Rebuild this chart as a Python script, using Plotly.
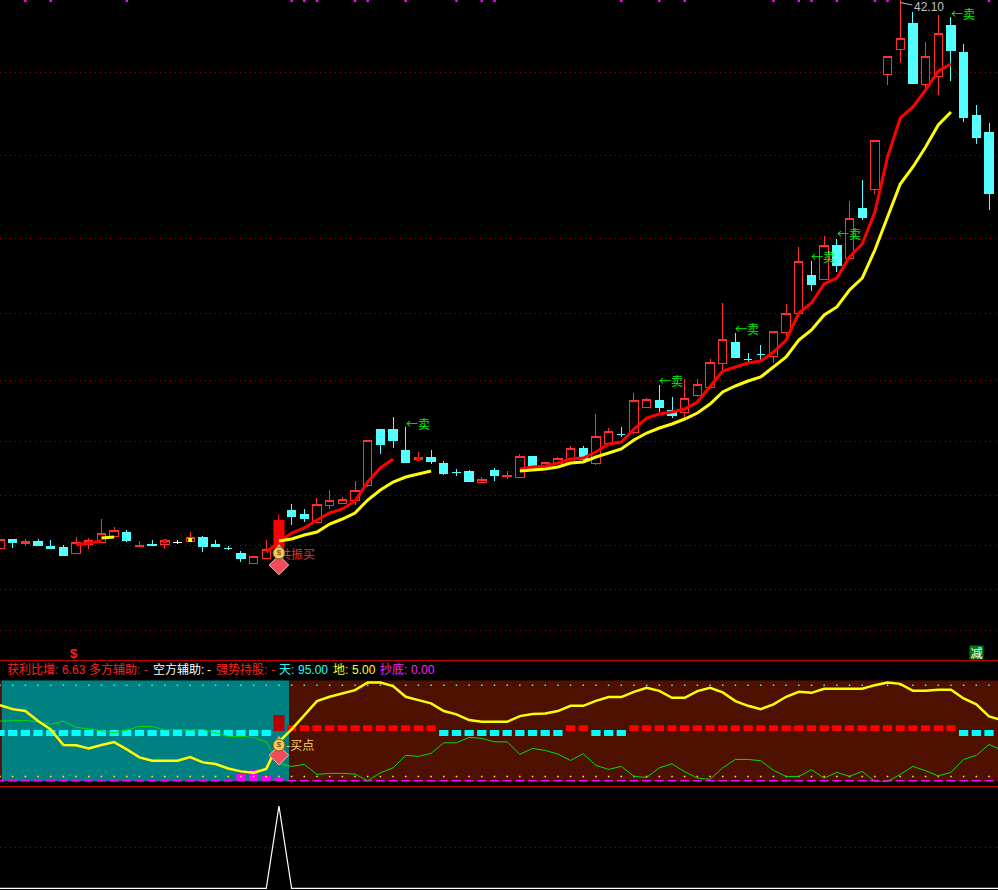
import plotly.graph_objects as go

# ---------- main panel: candles (scale 0-660 with 42.10 near the top) ----------
body_top = [121,121,119,119,114,113,118,120,127,130,128,115,116,120,118,123,123,116,112,107,104,111,140,150,146,156,160,161,170,220,
            231,231,210,203,203,197,188,189,181,190,185,204,204,198,202,212,212,224,229,226,260,261,260,250,262,276,298,321,318,301,
            306,329,347,399,385,415,415,442,452,520,604,622,637,604,627,635,608,545,528]
body_bottom = [112,118,117,115,112,105,107,116,118,124,120,114,115,116,118,119,114,114,112,102,97,102,113,144,142,138,155,157,160,175,
               216,220,198,201,199,187,188,179,178,185,184,183,195,192,197,197,201,197,217,226,228,253,253,245,248,265,273,297,303,301,
               306,304,328,347,376,381,395,402,443,471,586,611,577,576,584,610,543,523,467]
wick_high = [121,121,121,121,120,115,123,122,141,133,130,119,120,121,120,128,124,120,114,109,104,120,146,156,151,162,170,163,179,220,
             231,243,233,208,210,199,191,190,183,192,189,206,204,198,203,214,214,246,232,233,267,262,275,263,281,281,301,357,327,307,
             315,329,356,413,399,424,421,459,480,520,604,660,648,618,645,643,616,555,537]
wick_low = [112,112,114,115,111,104,107,111,118,124,118,114,115,111,116,119,108,114,110,98,97,102,113,135,138,138,151,157,155,173,
            206,212,197,199,196,185,184,178,177,179,181,183,194,192,197,197,197,195,217,223,226,252,248,242,242,263,273,290,302,297,
            299,297,322,347,369,381,388,402,440,466,575,597,577,571,565,579,538,516,450]
falling_days = [1,3,4,5,10,12,16,17,18,19,23,24,30,31,32,34,35,36,37,39,42,46,49,52,53,58,59,60,64,66,68,72,75,76,77,78]
neutral_days = [14]
signal_day = 22

fast_line = [None]*6 + [115,117,119] + [None]*12 + [108,118,127,132,140,147,151,159,178,192,201] + [None]*9 + \
            [191,193,194,197,201,202,208,216,218,231,242,246,248,251,258,273,289,293,297,299,308,320,347,357,376,382,403,416,448,503,542,553,570,589,596]
slow_line = [None]*8 + [122,123] + [None]*12 + [119,121,125,128,136,141,147,160,170,178,183,186,189] + [None]*6 + \
            [189,190,191,193,197,198,203,207,211,220,227,232,236,241,247,256,268,274,279,283,293,303,320,330,345,353,370,382,410,444,476,493,513,535,548]
red_blip_days, red_blip_levels = [13, 33], [119, 201]
yellow_blip_days, yellow_blip_levels = [15], [120]

grid_levels = [588,505,422,347,280,219,165,115,71,30]
sell_days = [32,52,58,64,66,75]
sell_levels = [237,280,332,404,427,647]
top_mark_days = [2,4,10,23,24,25,28,29,32,36,38,39,49,52,54,61,63,64,66,69,70,78]
peak_leader_days, peak_leader_levels = [71, 71.5, 71.95], [657.5, 656, 655]

# ---------- indicator panel (0-100) ----------
yellow_index = [75.5,71.5,69.6,59.7,51.5,36,35.7,32.7,36,38.9,31.7,23.8,20.5,20.5,20.5,24.1,18.9,17.2,12.9,10,8.6,12.5,39.2,51.5,65.6,79.4,83.7,87,90.3,97.9,
                97.9,94.3,83.7,80.4,77.2,69.6,66.3,60.7,59,59,59,64.6,66.6,67.3,69.6,74.8,74.8,79.7,83.4,83.4,88.6,92.6,89.6,82.7,82.7,89.3,92.6,88,79.4,74.8,
                71.5,76.2,83.7,88.6,87.6,91.6,91.6,91.6,91.6,95.2,97.9,96.5,89.6,89.6,90.6,90.6,82.1,76.2,64.3,60.7]
green_index = [59.7,60.4,60.4,59,56.4,59.7,53.5,52.1,50.1,48.1,50.8,54.4,54.4,50.8,51.5,50.8,51.5,48.1,44.6,44.6,43.6,39.2,17.9,14.9,16.9,7,8,8,7.3,0.7,
               8.6,13.5,25.8,24.8,27.8,38.2,38.2,43.6,42.6,39.2,39.2,26.8,32.7,30.7,27.1,20.8,27.4,15.9,12,14.9,5,4,13.5,17.5,9.6,3.4,2.1,13.5,21.8,21.8,
               20.5,11,5,5,11.6,3.4,9,5,10,0,0,7,14.9,10.6,5.6,9,21.8,25.8,36.6,31]
bull_days = list(range(23,35)) + [45,46] + list(range(50,76))
bear_days = list(range(0,22)) + list(range(35,45)) + [47,48,49,76,77,78]
bull_band = (49.8, 55.7)
bear_band = (44.9, 50.8)
block_band = (49.8, 65.6)
bottom_days = [19,20,21,22,23,24]
bottom_values = [7.3,11,5.4,3.4,1.5,1.5]
base_bottom = 1.6
sky_level, ground_level = 95, 5
zone_switch = 22.82

pulse_days = [0,21,22,23,79]
pulse_values = [0,0,1,0,0]
pulse_grid = [0.5]

header_labels = [("获利比增:",5.5,"#ff2020"),("多方辅助:",88,"#ff2020"),("-",143,"#ff2020"),("空方辅助:",152,"#ffffff"),("-",206,"#ffffff"),
                 ("强势持股:",215,"#ff2020"),("-",270,"#ff2020"),("天:",278,"#20ffff"),("地:",332,"#ffff20"),("抄底:",379,"#ff20ff")]
header_values = [("6.63",61,"#ff2020"),("95.00",297,"#20ffff"),("5.00",351,"#ffff20"),("0.00",410,"#ff20ff")]

# ---------- geometry ----------
W, H = 998, 890
days = list(range(79))
ind_days = list(range(80))
DOT = "#b00000"
FONT = "Liberation Sans, Noto Sans CJK SC, sans-serif"
CJK = "Noto Sans CJK SC, sans-serif"

fig = go.Figure()

def ohlc(ds):
    o, c = [], []
    for d in ds:
        if d in falling_days:
            o.append(body_top[d]); c.append(body_bottom[d])
        else:
            o.append(body_bottom[d]); c.append(body_top[d])
    return dict(x=ds, open=o, close=c, high=[wick_high[d] for d in ds], low=[wick_low[d] for d in ds])

def candles(ds, line, fill, w=1.0):
    side = dict(line=dict(color=line, width=w), fillcolor=fill)
    fig.add_trace(go.Candlestick(**ohlc(ds), increasing=side, decreasing=side, whiskerwidth=0,
                                 xaxis="x", yaxis="y", showlegend=False, hoverinfo="skip"))

rising = [d for d in days if d not in falling_days and d not in neutral_days and d != signal_day]
candles(rising, "#ff3030", "#000000")
candles(falling_days, "#54ffff", "#54ffff")
candles(neutral_days, "#ffffff", "#ffffff")
candles([signal_day], "#ff0000", "#ff0000", 1)
fig.add_trace(go.Bar(x=[signal_day], y=[body_top[signal_day]-body_bottom[signal_day]], base=[body_bottom[signal_day]], width=0.87,
                     marker=dict(color="#ff0000", line=dict(width=0)), showlegend=False, xaxis="x", yaxis="y", hoverinfo="skip"))

fig.add_trace(go.Scatter(x=days, y=fast_line, mode="lines", line=dict(color="#ff0000", width=3), connectgaps=False, showlegend=False, yaxis="y"))
fig.add_trace(go.Scatter(x=days, y=slow_line, mode="lines", line=dict(color="#ffff00", width=3), connectgaps=False, showlegend=False, yaxis="y"))
fig.add_trace(go.Scatter(x=red_blip_days, y=red_blip_levels, mode="markers", marker=dict(symbol="square", size=4, color="#ff0000"), showlegend=False, yaxis="y"))
fig.add_trace(go.Scatter(x=yellow_blip_days, y=yellow_blip_levels, mode="markers", marker=dict(symbol="square", size=4, color="#ffff00"), showlegend=False, yaxis="y"))
fig.add_trace(go.Scatter(x=top_mark_days, y=[659.2]*len(top_mark_days), mode="markers", marker=dict(symbol="square", size=2.5, color="#ff00ff"), cliponaxis=False, showlegend=False, yaxis="y"))
fig.add_trace(go.Scatter(x=peak_leader_days, y=peak_leader_levels, mode="lines", line=dict(color="#c0c0c0", width=1), showlegend=False, yaxis="y"))

# signal text and icons, main panel
fig.add_trace(go.Scatter(x=[signal_day], y=[104], mode="text", text=["共振买"], textposition="middle right",
                         textfont=dict(family=CJK, size=12, color="#e83030"), showlegend=False, yaxis="y"))

def icon(axis, bag, gem):
    fig.add_trace(go.Scatter(x=[signal_day], y=[gem], mode="markers", marker=dict(symbol="diamond", size=15, color="#f04c5c", line=dict(color="#ffb0b0", width=1)), showlegend=False, yaxis=axis))
    fig.add_trace(go.Scatter(x=[signal_day], y=[bag+6], mode="markers", marker=dict(symbol="triangle-up", size=6, color="#f0c860"), showlegend=False, yaxis=axis))
    fig.add_trace(go.Scatter(x=[signal_day], y=[bag], mode="markers+text", text=["$"], textposition="middle center",
                             textfont=dict(family=FONT, size=8, color="#7a3a00"),
                             marker=dict(symbol="circle", size=12, color="#f0c860", line=dict(color="#8a5010", width=1)), showlegend=False, yaxis=axis))

icon("y", 107, 95)

# indicator panel
def band(ds, lo_hi, color, width=0.73):
    fig.add_trace(go.Bar(x=ds, y=[lo_hi[1]-lo_hi[0]]*len(ds), base=[lo_hi[0]]*len(ds), width=width, marker=dict(color=color, line=dict(width=0)),
                         showlegend=False, xaxis="x", yaxis="y2", hoverinfo="skip"))

fig.add_trace(go.Scatter(x=days, y=[sky_level]*79, mode="markers", marker=dict(symbol="square", size=1.5, color="#20ffff"), showlegend=False, yaxis="y2"))
fig.add_trace(go.Scatter(x=days, y=[ground_level]*79, mode="markers", marker=dict(symbol="square", size=1.5, color="#ffff20"), showlegend=False, yaxis="y2"))
base_x = [d for d in days if d not in bottom_days]
fig.add_trace(go.Bar(x=base_x, y=[base_bottom]*len(base_x), width=0.71, marker=dict(color="#ff00ff", line=dict(width=0)), showlegend=False, yaxis="y2"))
fig.add_trace(go.Bar(x=bottom_days, y=bottom_values, width=0.71, marker=dict(color="#ff00ff", line=dict(width=0)), showlegend=False, yaxis="y2"))
band(bear_days, bear_band, "#00ffff")
band(bull_days, bull_band, "#ff0000")
band([signal_day], block_band, "#b80000", 0.87)

fig.add_trace(go.Scatter(x=ind_days, y=green_index, mode="lines", line=dict(color="#00e000", width=1), showlegend=False, yaxis="y2"))
fig.add_trace(go.Scatter(x=ind_days, y=yellow_index, mode="lines", line=dict(color="#ffff00", width=2.5), showlegend=False, yaxis="y2"))
icon("y2", 36, 26)

# pulse panel
fig.add_trace(go.Scatter(x=pulse_days, y=pulse_values, mode="lines", line=dict(color="#ffffff", width=1.2), showlegend=False, yaxis="y3"))

# ---------- layout ----------
def yfrac(px):
    return 1 - px/H

hidden = dict(showticklabels=False, ticks="", zeroline=False, showline=False, showgrid=False)
annotations = []
for d, lv in zip(sell_days, sell_levels):
    annotations.append(dict(x=d, y=lv, xref="x", yref="y", text="←卖", showarrow=False, xanchor="left", yanchor="middle",
                            font=dict(family=CJK, size=12, color="#00f000"), borderpad=0, xshift=-1))
annotations.append(dict(x=71, y=653, xref="x", yref="y", text="42.10", showarrow=False, xanchor="left", yanchor="middle",
                        font=dict(family=FONT, size=12, color="#c0c0c0"), borderpad=0, xshift=13))
annotations.append(dict(x=signal_day, y=36.5, xref="x", yref="y2", text="-买点", showarrow=False, xanchor="left", yanchor="middle",
                        font=dict(family=CJK, size=12, color="#ffd070"), borderpad=0, xshift=6))
for txt, px, col in header_labels + header_values:
    annotations.append(dict(x=px/W, y=yfrac(669.5), xref="paper", yref="paper", text=txt, showarrow=False, xanchor="left", yanchor="middle",
                            font=dict(family=FONT, size=12, color=col), borderpad=0))
annotations.append(dict(x=5.85, y=6.5, xref="x", yref="y", text="<b>$</b>", showarrow=False, xanchor="center", yanchor="middle",
                        font=dict(family=FONT, size=13, color="#ff2020"), borderpad=0))
annotations.append(dict(x=77, y=7.5, xref="x", yref="y", text="减", showarrow=False, xanchor="center", yanchor="middle", width=13, height=13,
                        font=dict(family=CJK, size=12, color="#ffffff"), bgcolor="#007a10", borderpad=0))

shapes = [
    dict(type="rect", xref="x", yref="y2", x0=-1, x1=0.13, y0=0, y1=100, fillcolor="#4e1000", line=dict(width=0), layer="below"),
    dict(type="rect", xref="x", yref="y2", x0=0.13, x1=zone_switch, y0=0, y1=100, fillcolor="#008080", line=dict(width=0), layer="below"),
    dict(type="rect", xref="x", yref="y2", x0=zone_switch, x1=80, y0=0, y1=100, fillcolor="#4e1000", line=dict(width=0), layer="below"),
    dict(type="line", xref="paper", yref="paper", x0=0, x1=1, y0=yfrac(660.5), y1=yfrac(660.5), line=dict(color="#c80000", width=1)),
    dict(type="line", xref="paper", yref="paper", x0=0, x1=1, y0=yfrac(786.5), y1=yfrac(786.5), line=dict(color="#c80000", width=1)),
]

fig.update_layout(
    width=W, height=H, margin=dict(l=0, r=0, t=0, b=0), autosize=False,
    paper_bgcolor="#000000", plot_bgcolor="#000000", showlegend=False, barmode="overlay", hovermode=False,
    boxgap=0.34, boxgroupgap=0,
    xaxis=dict(range=[0.0, 78.71], rangeslider=dict(visible=False), **hidden),
    yaxis=dict(domain=[yfrac(660), 1], range=[0, 660], **{**hidden, "showgrid": True}, tickvals=grid_levels,
               gridcolor=DOT, griddash="1px,4px", gridwidth=1),
    yaxis2=dict(domain=[yfrac(781.5), yfrac(680.3)], range=[0, 100], **hidden),
    yaxis3=dict(domain=[0, yfrac(787)], range=[-0.0207, 1.231], **{**hidden, "showgrid": True}, tickvals=pulse_grid,
                gridcolor=DOT, griddash="1px,4px", gridwidth=1),
    annotations=annotations, shapes=shapes,
)

fig.write_html("out.html", config=dict(displayModeBar=False),
               post_script="document.body.style.margin='0';document.body.style.background='#000';document.body.style.overflow='hidden';"
                           "document.querySelectorAll('.boxes path').forEach(function(p){p.style.shapeRendering='crispEdges';});")
